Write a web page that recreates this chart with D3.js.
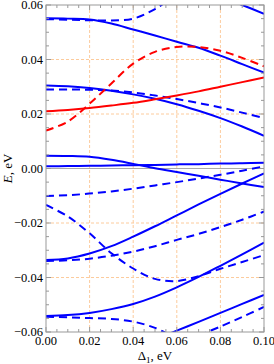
<!DOCTYPE html>
<html>
<head>
<meta charset="utf-8">
<script src="https://cdn.jsdelivr.net/npm/d3@7/dist/d3.min.js"></script>
<style>
  body { margin: 0; background: #fff; }
  text { font-family: "Liberation Serif", "DejaVu Serif", serif; }
</style>
</head>
<body>
<svg id="chart"></svg>
<script>
// Valores de Δ1 (eV) donde se leyeron las curvas
const delta = [0, 0.01, 0.02, 0.03, 0.04, 0.05, 0.06, 0.07, 0.08, 0.09, 0.10];

// Niveles de energía E (eV); null = fuera del rango
const azulSolido1 = [0.0551, 0.0550, 0.0547, 0.0532, 0.0510, 0.0488, 0.0465, 0.0443, 0.0414, 0.0383, 0.0352];
const azulSolido2 = [null, null, null, null, null, null, null, null, 0.0632, 0.0600, 0.0568];
const azulSolido3 = [0.0305, 0.0302, 0.0295, 0.0285, 0.0272, 0.0256, 0.0236, 0.0212, 0.0185, 0.0154, 0.0120];
const azulSolido4 = [0.0047, 0.0046, 0.0043, 0.0032, 0.0017, 0.0001, -0.0013, -0.0027, -0.0041, -0.0055, -0.0068];
const azulSolido5 = [0.0008, 0.0009, 0.0010, 0.0011, 0.0012, 0.0013, 0.0015, 0.0016, 0.0018, 0.0019, 0.0021];
const azulSolido6 = [-0.0336, -0.0330, -0.0312, -0.0285, -0.0250, -0.0212, -0.0172, -0.0132, -0.0093, -0.0055, -0.0018];
const azulSolido7 = [-0.0541, -0.0538, -0.0530, -0.0516, -0.0497, -0.0470, -0.0436, -0.0398, -0.0357, -0.0315, -0.0272];
const azulSolido8 = [null, null, null, null, null, -0.0628, -0.0595, -0.0563, -0.0530, -0.0497, -0.0464];

const azulGuion1 = [0.0548, 0.0546, 0.0544, 0.0543, 0.0550, 0.0585, 0.0640, null, null, null, null];
const azulGuion2 = [0.0290, 0.0290, 0.0289, 0.0286, 0.0279, 0.0268, 0.0255, 0.0240, 0.0224, 0.0205, 0.0185];
const azulGuion3 = [-0.0101, -0.0098, -0.0092, -0.0084, -0.0074, -0.0062, -0.0050, -0.0037, -0.0023, -0.0008, 0.0008];
const azulGuion4 = [-0.0134, -0.0176, -0.0238, -0.0311, -0.0367, -0.0405, -0.0413, -0.0395, -0.0368, -0.0343, -0.0318];
const azulGuion5 = [-0.0339, -0.0337, -0.0331, -0.0320, -0.0305, -0.0285, -0.0262, -0.0240, -0.0215, -0.0188, -0.0158];
const azulGuion6 = [-0.0544, -0.0546, -0.0549, -0.0552, -0.0562, -0.0585, -0.0625, null, null, null, null];
const azulGuion7 = [null, null, null, null, null, null, null, -0.0613, -0.0580, -0.0545, -0.0508];

const rojoSolido = [0.0210, 0.0215, 0.0222, 0.0231, 0.0241, 0.0254, 0.0268, 0.0283, 0.0300, 0.0317, 0.0334];
const rojoGuion = [0.0139, 0.0172, 0.0238, 0.0312, 0.0385, 0.0428, 0.0446, 0.0446, 0.0432, 0.0406, 0.0375];

// Marcas de los ejes
const ticksX = [0, 0.02, 0.04, 0.06, 0.08, 0.10];
const ticksY = [-0.06, -0.04, -0.02, 0, 0.02, 0.04, 0.06];

const AZUL = "#0000ff";
const ROJO = "#ff0000";

const series = [
    { valores: azulSolido1, color: AZUL, guion: false },
    { valores: azulSolido2, color: AZUL, guion: false },
    { valores: azulSolido3, color: AZUL, guion: false },
    { valores: azulSolido4, color: AZUL, guion: false },
    { valores: azulSolido5, color: AZUL, guion: false },
    { valores: azulSolido6, color: AZUL, guion: false },
    { valores: azulSolido7, color: AZUL, guion: false },
    { valores: azulSolido8, color: AZUL, guion: false },
    { valores: azulGuion1, color: AZUL, guion: true },
    { valores: azulGuion2, color: AZUL, guion: true },
    { valores: azulGuion3, color: AZUL, guion: true },
    { valores: azulGuion4, color: AZUL, guion: true },
    { valores: azulGuion5, color: AZUL, guion: true },
    { valores: azulGuion6, color: AZUL, guion: true },
    { valores: azulGuion7, color: AZUL, guion: true },
    { valores: rojoSolido, color: ROJO, guion: false },
    { valores: rojoGuion, color: ROJO, guion: true }
];

const width = 274;
const height = 364;
const margin = { top: 5, right: 10, bottom: 32, left: 46 };

const svg = d3.select("#chart")
    .attr("width", width)
    .attr("height", height);

const x = d3.scaleLinear().domain([0, 0.1]).range([margin.left, width - margin.right]);
const y = d3.scaleLinear().domain([-0.06, 0.06]).range([height - margin.bottom, margin.top]);

const x0 = x.range()[0], x1 = x.range()[1];
const y0 = y.range()[1], y1 = y.range()[0];

// Rejilla punteada naranja
const rejilla = svg.append("g")
    .attr("stroke", "#fccb9c")
    .attr("stroke-width", 1)
    .attr("stroke-dasharray", "3,2");

rejilla.selectAll(".gx")
    .data(ticksX.slice(1, -1))
    .enter()
    .append("line")
    .attr("x1", d => x(d)).attr("x2", d => x(d))
    .attr("y1", y0).attr("y2", y1);

rejilla.selectAll(".gy")
    .data(ticksY.filter(d => d !== 0).slice(1, -1))
    .enter()
    .append("line")
    .attr("x1", x0).attr("x2", x1)
    .attr("y1", d => y(d)).attr("y2", d => y(d));

// Línea de E = 0
svg.append("line")
    .attr("x1", x0).attr("x2", x1)
    .attr("y1", y(0)).attr("y2", y(0))
    .attr("stroke", "#aaaaaa")
    .attr("stroke-width", 1);

// Curvas
svg.append("clipPath")
    .attr("id", "recorte")
    .append("rect")
    .attr("x", x0).attr("y", y0)
    .attr("width", x1 - x0).attr("height", y1 - y0);

const linea = d3.line()
    .defined(d => d[1] !== null)
    .x(d => x(d[0]))
    .y(d => y(d[1]))
    .curve(d3.curveCatmullRom.alpha(0.5));

svg.append("g")
    .attr("clip-path", "url(#recorte)")
    .selectAll("path")
    .data(series)
    .enter()
    .append("path")
    .attr("fill", "none")
    .attr("stroke", d => d.color)
    .attr("stroke-width", 2)
    .attr("stroke-dasharray", d => d.guion ? "8,5" : null)
    .attr("d", d => linea(delta.map((v, i) => [v, d.valores[i]])));

// Marco con marcas hacia dentro en los cuatro lados
const gris = "#999999";
const marcasX = d3.range(0, 0.1001, 0.005);
const marcasY = d3.range(-0.06, 0.0601, 0.005);
const esMayor = (v, lista) => lista.some(t => Math.abs(t - v) < 1e-6);

svg.append("rect")
    .attr("x", x0).attr("y", y0)
    .attr("width", x1 - x0).attr("height", y1 - y0)
    .attr("fill", "none")
    .attr("stroke", gris)
    .attr("stroke-width", 1);

const marcas = svg.append("g").attr("stroke", gris).attr("stroke-width", 1);

marcasX.forEach(v => {
    const largo = esMayor(v, ticksX) ? 5 : 3;
    marcas.append("line").attr("x1", x(v)).attr("x2", x(v)).attr("y1", y1).attr("y2", y1 - largo);
    marcas.append("line").attr("x1", x(v)).attr("x2", x(v)).attr("y1", y0).attr("y2", y0 + largo);
});

marcasY.forEach(v => {
    const largo = esMayor(v, ticksY) ? 5 : 3;
    marcas.append("line").attr("x1", x0).attr("x2", x0 + largo).attr("y1", y(v)).attr("y2", y(v));
    marcas.append("line").attr("x1", x1).attr("x2", x1 - largo).attr("y1", y(v)).attr("y2", y(v));
});

// Etiquetas de las marcas
const formato = d3.format(".2f");

svg.append("g")
    .selectAll("text")
    .data(ticksY)
    .enter()
    .append("text")
    .attr("x", x0 - 3)
    .attr("y", d => y(d))
    .attr("dy", "0.35em")
    .attr("text-anchor", "end")
    .attr("font-size", 12.5)
    .text(d => formato(d));

svg.append("g")
    .selectAll("text")
    .data(ticksX)
    .enter()
    .append("text")
    .attr("x", d => x(d))
    .attr("y", y1 + 13)
    .attr("text-anchor", "middle")
    .attr("font-size", 12.5)
    .text(d => formato(d));

// Títulos de los ejes
const tituloX = svg.append("text")
    .attr("x", (x0 + x1) / 2)
    .attr("y", height - 4)
    .attr("text-anchor", "middle")
    .attr("font-size", 13);
tituloX.append("tspan").text("Δ");
tituloX.append("tspan").attr("font-size", 9).attr("dy", 3).text("1");
tituloX.append("tspan").attr("dy", -3).text(", eV");

const tituloY = svg.append("text")
    .attr("transform", `translate(12,${y(0)}) rotate(-90)`)
    .attr("text-anchor", "middle")
    .attr("font-size", 13);
tituloY.append("tspan").attr("font-style", "italic").text("E");
tituloY.append("tspan").text(", eV");
</script>
</body>
</html>
